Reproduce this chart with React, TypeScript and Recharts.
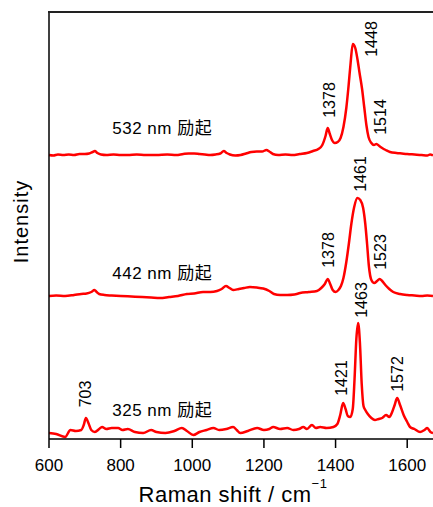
import React from "react";
import { LineChart, Line, XAxis, YAxis, ReferenceDot } from "recharts";

const FONT = '"Liberation Sans", Arial, "Noto Sans CJK JP", sans-serif';
const RED = "#ff0000";
const CHART_W = 433;
const CHART_H = 507;
const PLOT_LEFT = 49;
const PLOT_TOP = 12;

// Raman shift (cm-1) and intensity (a.u.) for each excitation wavelength
const WN_532 = [
  600, 612, 625, 640, 655, 670, 685, 700, 712, 722, 728, 735, 745, 760, 780, 800, 820, 845, 870, 900,
  930, 955, 975, 990, 1005, 1020, 1035, 1050, 1065, 1078, 1088, 1096, 1105, 1120, 1135, 1150, 1165,
  1180, 1195, 1207, 1215, 1225, 1240, 1260, 1280, 1300, 1320, 1337, 1352, 1363, 1372, 1378, 1384,
  1390, 1398, 1406, 1414, 1422, 1430, 1436, 1442, 1448, 1455, 1461, 1467, 1474, 1480, 1486, 1492,
  1500, 1507, 1514, 1522, 1530, 1540, 1552, 1570, 1585, 1600, 1620, 1640, 1656, 1664, 1672,
];
const I_532 = [
  0, -0.5, 0.5, 0, 0.5, 0, 1, 1, 1.5, 3, 4, 2, 0.5, 0, 0.5, 0, 0, 0.5, 0, 0,
  0.5, 0, 1, 1.5, 1.5, 1, 0.5, 0, 0.5, 1.5, 4, 2, 0.5, -0.5, 0, 1.5, 3,
  3.5, 3.5, 5, 3.5, 1, 0, 0.5, 0, 1, 2, 4, 6, 10, 19, 27, 21,
  15, 12, 13, 17, 28, 47, 68, 92, 111, 107, 96, 82, 66, 48, 30, 18,
  12, 10, 11, 9, 7, 5, 3, 2, 1.5, 1, 0.5, 0, -0.5, 0.5, -0.5,
];

const WN_442 = [
  600, 620, 645, 670, 690, 705, 718, 727, 733, 740, 755, 775, 800, 830, 860, 885, 910, 935, 960, 985,
  1005, 1030, 1050, 1069, 1082, 1094, 1104, 1114, 1130, 1145, 1161, 1180, 1198, 1215, 1228, 1245,
  1265, 1285, 1301, 1325, 1348, 1360, 1370, 1378, 1385, 1392, 1400, 1408, 1415, 1422, 1430, 1437,
  1444, 1452, 1461, 1469, 1477, 1483, 1488, 1493, 1500, 1508, 1516, 1523, 1530, 1539, 1550, 1561,
  1580, 1600, 1620, 1640, 1656, 1672,
];
const I_442 = [
  0, 0.5, 0, 1, 2, 2.5, 4, 6, 4, 2, 1, 0.5, 0, -0.5, -1, -1.5, -2, -1, 0, 2,
  2.5, 4, 4, 5, 7, 10, 8, 6, 7, 8, 9, 8.5, 7.5, 5, 2, 1,
  1, 1.5, 3, 4, 5, 8, 12, 17, 12, 6, 4, 6, 10, 18, 34, 52,
  72, 89, 98, 96, 88, 72, 52, 30, 16, 13, 15, 17, 15, 11, 7, 4,
  2, 1, 0.5, 0, 0.5, 0,
];

const WN_325 = [
  600, 620, 645, 660, 675, 690, 697, 703, 710, 718, 728, 740, 748, 760, 775, 793, 805, 820, 840, 863,
  885, 900, 925, 950, 971, 985, 1003, 1020, 1040, 1059, 1075, 1095, 1114, 1124, 1134, 1155, 1181,
  1200, 1215, 1226, 1245, 1265, 1282, 1298, 1310, 1320, 1334, 1345, 1357, 1375, 1394, 1405, 1413,
  1421, 1428, 1434, 1441, 1448, 1453, 1458, 1463, 1468, 1473, 1478, 1483, 1490, 1500, 1510, 1520,
  1530, 1541, 1550, 1558, 1565, 1572, 1580, 1590, 1600, 1608, 1620, 1636, 1648, 1656, 1665, 1672,
];
const I_325 = [
  6, 5, 2, 9, 8, 9, 14, 21, 16, 9, 7, 10, 12, 10, 11, 11, 9, 10, 7, 6,
  9, 7, 6, 8, 11, 8, 4, 7, 9, 11, 9, 10, 12, 9, 6, 8, 11,
  9, 10, 12, 10, 11, 9, 10, 12, 10, 14, 11, 12, 11, 12, 15, 24,
  36, 30, 23, 22, 30, 60, 100, 116, 96, 55, 33, 29, 25, 21, 19, 20,
  21, 24, 22, 27, 34, 41, 34, 24, 17, 12, 10, 7, 9, 11, 7, 6,
];

// vertical stacking offsets
const OFFSET_532 = 284;
const OFFSET_442 = 143;
const OFFSET_325 = 0;

const X_MIN = 600;
const X_MAX = 1672;
const Y_MAX = 427;
const X_TICKS = [600, 800, 1000, 1200, 1400, 1600];

// peak assignments, placed in data coordinates
const PEAK_LABELS = [
  { text: "1448", x: 1499, y: 400 },
  { text: "1378", x: 1382, y: 339 },
  { text: "1514", x: 1525, y: 322 },
  { text: "1461", x: 1469, y: 265 },
  { text: "1378", x: 1379, y: 189 },
  { text: "1523", x: 1525, y: 187 },
  { text: "1463", x: 1471, y: 139 },
  { text: "1421", x: 1416, y: 61 },
  { text: "1572", x: 1572, y: 65 },
  { text: "703", x: 703, y: 45 },
];

const EXCITATION_LABELS = [
  { text: "532 nm 励起", x: 916, y: 311 },
  { text: "442 nm 励起", x: 916, y: 166 },
  { text: "325 nm 励起", x: 916, y: 29 },
];

const toPoints = (wn: number[], inten: number[], offset: number) =>
  wn.map((x, i) => ({ x, y: inten[i] + offset }));

const spectra = [
  { id: "532", data: toPoints(WN_532, I_532, OFFSET_532) },
  { id: "442", data: toPoints(WN_442, I_442, OFFSET_442) },
  { id: "325", data: toPoints(WN_325, I_325, OFFSET_325) },
];

export default function App() {
  return (
    <div
      style={{
        position: "absolute",
        left: 0,
        top: 0,
        width: CHART_W,
        height: CHART_H,
        background: "#fff",
      }}
    >
      <LineChart
        width={CHART_W}
        height={CHART_H}
        margin={{ top: PLOT_TOP, right: 0, bottom: 0, left: 0 }}
      >
        <XAxis
          dataKey="x"
          type="number"
          domain={[X_MIN, X_MAX]}
          ticks={X_TICKS}
          height={68}
          tickSize={9}
          tickMargin={11}
          axisLine={{ stroke: "#000", strokeWidth: 1.5 }}
          tickLine={{ stroke: "#000", strokeWidth: 1.5 }}
          tick={{ fill: "#000", fontSize: 17, fontFamily: FONT }}
          label={{
            content: ({ viewBox }: any) => (
              <text
                x={viewBox.x + viewBox.width / 2 - 8}
                y={viewBox.y + 63}
                textAnchor="middle"
                fontFamily={FONT}
                fontSize={22}
                letterSpacing={0.5}
                fill="#000"
              >
                <tspan>Raman shift / cm</tspan>
                <tspan dy={-14} fontSize={13}>
                  −1
                </tspan>
              </text>
            ),
          }}
        />
        <YAxis
          type="number"
          domain={[0, Y_MAX]}
          width={PLOT_LEFT}
          tick={false}
          tickLine={false}
          axisLine={{ stroke: "#000", strokeWidth: 1.5 }}
          label={{
            content: ({ viewBox }: any) => {
              const cx = viewBox.x + 21;
              const cy = viewBox.y + viewBox.height / 2 - 4;
              return (
                <text
                  x={cx}
                  y={cy}
                  transform={`rotate(-90 ${cx} ${cy})`}
                  textAnchor="middle"
                  dominantBaseline="central"
                  fontFamily={FONT}
                  fontSize={20}
                  letterSpacing={1}
                  fill="#000"
                >
                  Intensity
                </text>
              );
            },
          }}
        />
        {spectra.map((s) => (
          <Line
            key={s.id}
            data={s.data}
            dataKey="y"
            type="monotone"
            stroke={RED}
            strokeWidth={2.5}
            dot={false}
            isAnimationActive={false}
          />
        ))}
        {PEAK_LABELS.map((p, i) => (
          <ReferenceDot
            key={`p${i}`}
            x={p.x}
            y={p.y}
            r={0}
            ifOverflow="visible"
            shape={(props: any) => (
              <text
                x={props.cx}
                y={props.cy}
                transform={`rotate(-90 ${props.cx} ${props.cy})`}
                textAnchor="middle"
                dominantBaseline="central"
                fontFamily={FONT}
                fontSize={16}
                fill="#000"
              >
                {p.text}
              </text>
            )}
          />
        ))}
        {EXCITATION_LABELS.map((p, i) => (
          <ReferenceDot
            key={`e${i}`}
            x={p.x}
            y={p.y}
            r={0}
            ifOverflow="visible"
            shape={(props: any) => (
              <text
                x={props.cx}
                y={props.cy}
                textAnchor="middle"
                dominantBaseline="central"
                fontFamily={FONT}
                fontSize={17}
                letterSpacing={0.5}
                fill="#000"
              >
                {p.text}
              </text>
            )}
          />
        ))}
      </LineChart>
      {/* top edge of the frame */}
      <div
        style={{
          position: "absolute",
          left: PLOT_LEFT - 1,
          top: PLOT_TOP - 1,
          width: CHART_W - PLOT_LEFT + 1,
          height: 2,
          background: "#222",
        }}
      />
    </div>
  );
}
